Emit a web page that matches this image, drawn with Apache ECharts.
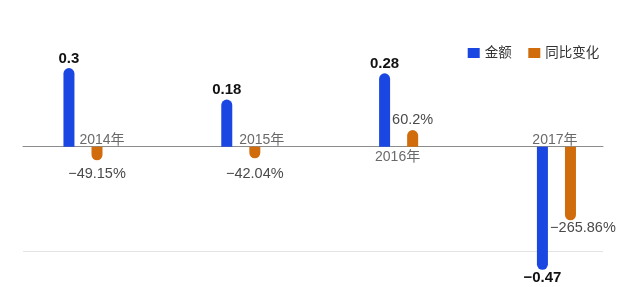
<!DOCTYPE html>
<html>
<head>
<meta charset="utf-8">
<script src="https://cdn.jsdelivr.net/npm/echarts@6/dist/echarts.min.js"></script>
<style>html,body{margin:0;padding:0;background:#fff;}#c{width:630px;height:287px;}</style>
</head>
<body>
<div id="c"></div>
<script>
// ---- data ----
var categories = ['2014年', '2015年', '2016年', '2017年'];
var amount = [0.3, 0.18, 0.28, -0.47];            // 金额
var yoy = [-49.15, -42.04, 60.2, -265.86];        // 同比变化 (%)
var seriesNames = ['金额', '同比变化'];

// ---- layout / style (not data) ----
var FONT = "'Liberation Sans','Noto Sans CJK SC',sans-serif";
var BLUE = '#1a46e2', ORANGE = '#d06c0c';
var catLabelPos = [
  {position: 'top', dx: 19, d: 0},
  {position: 'top', dx: 21, d: 0},
  {position: 'bottom', dx: -1, d: 3},
  {position: 'top', dx: -1.5, d: 0}
];
var yoyLabelLayout = [
  {d: 7, dx: 0}, {d: 9, dx: 0}, {d: 3, dx: 0}, {d: 1, dx: 12.5}
];

var chart = echarts.init(document.getElementById('c'));
var R = 5.5;
function radius(v) { return v >= 0 ? [R, R, 0, 0] : [0, 0, R, R]; }

var blueData = amount.map(function (v, i) {
  return {
    value: [i, v],
    itemStyle: {borderRadius: radius(v)},
    label: {position: v >= 0 ? 'top' : 'bottom', distance: v >= 0 ? 2 : 1}
  };
});
var orangeData = yoy.map(function (v, i) {
  var l = yoyLabelLayout[i];
  return {
    value: [i, v],
    itemStyle: {borderRadius: radius(v)},
    label: {position: v >= 0 ? 'top' : 'bottom', distance: l.d, offset: [l.dx, 0]}
  };
});
var catData = categories.map(function (c, i) {
  var p = catLabelPos[i];
  return {
    value: [i, 0],
    name: c,
    label: {position: p.position, distance: p.d, offset: [p.dx, 0]}
  };
});

chart.setOption({
  animation: false,
  backgroundColor: '#fff',
  textStyle: {fontFamily: FONT},
  legend: {
    data: seriesNames,
    left: 467.7,
    top: 46,
    padding: 0,
    itemWidth: 12,
    itemHeight: 10,
    itemGap: 16.6,
    icon: 'rect',
    textStyle: {fontSize: 13.5, lineHeight: 14, color: '#333', fontFamily: FONT}
  },
  grid: {left: 23, right: 27, top: 41.9, height: 209.6, containLabel: false},
  xAxis: {
    type: 'value',
    min: -0.38,
    max: 3.295,
    axisLine: {show: true, onZero: true, lineStyle: {color: '#8c8c8c', width: 1}},
    axisTick: {show: false},
    axisLabel: {show: false},
    splitLine: {show: false}
  },
  yAxis: [
    {
      type: 'value',
      min: -0.4,
      max: 0.4,
      interval: 0.4,
      axisLine: {show: false},
      axisTick: {show: false},
      axisLabel: {show: false},
      splitLine: {show: true, lineStyle: {color: ['#e3e3e3', '#e3e3e3', 'rgba(0,0,0,0)'], width: 1}}
    },
    {
      type: 'value',
      min: -378.6,
      max: 378.6,
      show: false,
      splitLine: {show: false}
    }
  ],
  series: [
    {
      name: seriesNames[0],
      type: 'bar',
      yAxisIndex: 0,
      clip: false,
      barWidth: 11,
      barGap: '155%',
      itemStyle: {color: BLUE},
      label: {
        show: true,
        color: '#111',
        fontSize: 15,
        fontWeight: 'bold',
        fontFamily: FONT,
        lineHeight: 15,
        formatter: function (p) { return String(p.value[1]).replace('-', '−'); }
      },
      data: blueData
    },
    {
      name: seriesNames[1],
      type: 'bar',
      yAxisIndex: 1,
      clip: false,
      barWidth: 11,
      barGap: '155%',
      itemStyle: {color: ORANGE},
      label: {
        show: true,
        color: '#4a4a4a',
        fontSize: 14.5,
        fontFamily: FONT,
        lineHeight: 14,
        formatter: function (p) { return String(p.value[1]).replace('-', '−') + '%'; }
      },
      data: orangeData
    },
    {
      name: 'category',
      type: 'scatter',
      yAxisIndex: 0,
      symbolSize: 0,
      silent: true,
      clip: false,
      label: {
        show: true,
        color: '#444',
        fontSize: 14,
        lineHeight: 14,
        fontFamily: FONT,
        formatter: function (p) { return p.name; }
      },
      data: catData
    }
  ]
});
</script>
</body>
</html>
